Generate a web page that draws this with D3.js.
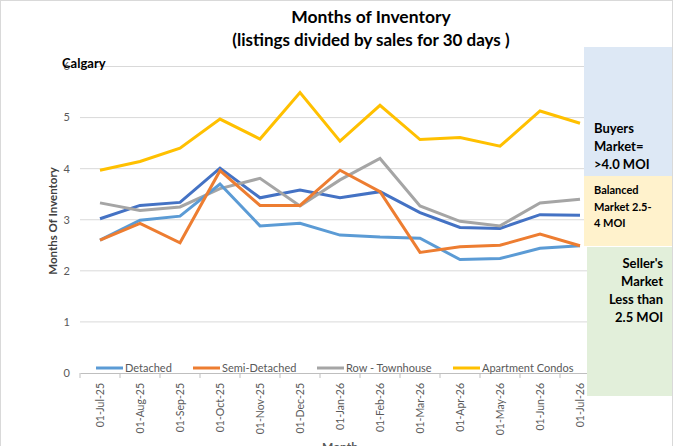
<!DOCTYPE html>
<html>
<head>
<meta charset="utf-8">
<script src="https://cdn.jsdelivr.net/npm/d3@7"></script>
<style>
  body { margin: 0; background: #fff; }
  svg { font-family: Lato, "Open Sans", sans-serif; }
</style>
</head>
<body>
<div id="chart"></div>
<script>
var width = 673, height = 446;

var months = ["01-Jul-25","01-Aug-25","01-Sep-25","01-Oct-25","01-Nov-25","01-Dec-25",
              "01-Jan-26","01-Feb-26","01-Mar-26","01-Apr-26","01-May-26","01-Jun-26","01-Jul-26"];
var detached   = [2.60, 2.99, 3.07, 3.70, 2.88, 2.93, 2.70, 2.66, 2.64, 2.22, 2.24, 2.44, 2.49];
var semiDet    = [2.60, 2.93, 2.55, 3.96, 3.28, 3.28, 3.97, 3.55, 2.36, 2.47, 2.50, 2.72, 2.49];
var rowTown    = [3.33, 3.18, 3.25, 3.61, 3.81, 3.27, 3.78, 4.20, 3.27, 2.97, 2.88, 3.33, 3.40];
var aptCondo   = [3.97, 4.14, 4.40, 4.97, 4.58, 5.49, 4.54, 5.24, 4.57, 4.61, 4.44, 5.13, 4.89];
var allTypes   = [3.02, 3.28, 3.34, 4.01, 3.43, 3.58, 3.43, 3.55, 3.14, 2.85, 2.83, 3.10, 3.09];
var yTicks = [0, 1, 2, 3, 4, 5, 6];

var series = [
  {name: "All Types", values: allTypes, color: "#4472C4"},
  {name: "Row - Townhouse", values: rowTown, color: "#A5A5A5"},
  {name: "Detached", values: detached, color: "#5B9BD5"},
  {name: "Semi-Detached", values: semiDet, color: "#ED7D31"},
  {name: "Apartment Condos", values: aptCondo, color: "#FFC000"}
];
var legendOrder = ["Detached", "Semi-Detached", "Row - Townhouse", "Apartment Condos"];

var svg = d3.select("#chart").append("svg")
  .attr("width", width).attr("height", height);

svg.append("rect").attr("x", 0.5).attr("y", 0.5)
  .attr("width", width - 1).attr("height", height + 5)
  .attr("fill", "#fff").attr("stroke", "#D9D9D9");

var x = d3.scaleBand().domain(months).range([80, 600]);
var y = d3.scaleLinear().domain([0, 6]).range([373, 66.5]);
var cx = function(i) { return x(months[i]) + x.bandwidth() / 2; };

// gridlines
svg.selectAll(".grid").data(yTicks.slice(1)).enter().append("line")
  .attr("x1", 80).attr("x2", 600)
  .attr("y1", function(d) { return y(d); }).attr("y2", function(d) { return y(d); })
  .attr("stroke", "#D9D9D9").attr("stroke-width", 1);

// y tick labels
svg.selectAll(".ylab").data(yTicks).enter().append("text")
  .attr("x", 70).attr("y", function(d) { return y(d); })
  .attr("dy", "0.35em").attr("text-anchor", "end")
  .attr("fill", "#595959").attr("font-size", 11)
  .text(function(d) { return d; });

// x axis
var xAxis = d3.axisBottom(x).tickSizeOuter(0).tickSize(0);
var gx = svg.append("g").attr("transform", "translate(0,373)").call(xAxis);
gx.select(".domain").attr("stroke", "#BFBFBF");
gx.selectAll(".tick text")
  .attr("transform", "rotate(-90)")
  .attr("text-anchor", "end")
  .attr("x", -10).attr("y", 0).attr("dy", "0.35em")
  .attr("fill", "#595959").attr("font-size", 10.5).attr("font-family", "Lato");
svg.selectAll(".xtick").data(d3.range(months.length + 1)).enter().append("line")
  .attr("x1", function(i) { return 80 + i * x.step(); })
  .attr("x2", function(i) { return 80 + i * x.step(); })
  .attr("y1", 373).attr("y2", 378)
  .attr("stroke", "#BFBFBF");

// lines
var line = d3.line()
  .x(function(d, i) { return cx(i); })
  .y(function(d) { return y(d); });

svg.selectAll(".series").data(series).enter().append("path")
  .attr("d", function(d) { return line(d.values); })
  .attr("fill", "none")
  .attr("stroke", function(d) { return d.color; })
  .attr("stroke-width", 3);

// legend
var legendX = [96, 193, 317, 453];
var lg = svg.selectAll(".legend").data(legendOrder).enter().append("g")
  .attr("transform", function(d, i) { return "translate(" + legendX[i] + ",368)"; });
lg.append("line").attr("x1", 0).attr("x2", 27).attr("y1", 0).attr("y2", 0)
  .attr("stroke-width", 3)
  .attr("stroke", function(d) { return series.find(function(s) { return s.name === d; }).color; });
lg.append("text").attr("x", 29).attr("y", 0).attr("dy", "0.35em")
  .attr("fill", "#595959").attr("font-size", 11)
  .text(function(d) { return d; });

// titles
svg.append("text").attr("x", 371).attr("y", 23).attr("text-anchor", "middle")
  .attr("font-size", 17.5).attr("font-weight", "bold").attr("fill", "#000")
  .text("Months of Inventory");
svg.append("text").attr("x", 371).attr("y", 46).attr("text-anchor", "middle")
  .attr("font-size", 17).attr("font-weight", "bold").attr("fill", "#000")
  .text("(listings divided by sales for 30 days )");
svg.append("text").attr("x", 62).attr("y", 68)
  .attr("font-size", 13).attr("font-weight", "bold").attr("fill", "#000")
  .text("Calgary");
svg.append("text").attr("transform", "translate(57,221) rotate(-90)")
  .attr("text-anchor", "middle").attr("font-size", 11.5).attr("font-weight", "bold")
  .attr("fill", "#404040").text("Months Of Inventory");
svg.append("text").attr("x", 340).attr("y", 451).attr("text-anchor", "middle")
  .attr("font-size", 12).attr("font-weight", "bold").attr("fill", "#595959")
  .text("Month");

// market boxes
var boxes = [
  {x: 584, y: 47, h: 129, fill: "#DDE8F5"},
  {x: 584, y: 176, h: 70, fill: "#FFF2CC"},
  {x: 587, y: 247, h: 149, fill: "#E2EFDA"}
];
svg.selectAll(".box").data(boxes).enter().append("rect")
  .attr("x", function(d) { return d.x; }).attr("y", function(d) { return d.y; })
  .attr("width", function(d) { return 672 - d.x; }).attr("height", function(d) { return d.h; })
  .attr("fill", function(d) { return d.fill; });

function boxText(lines, xp, y0, dy, size, anchor) {
  svg.append("g").selectAll("text").data(lines).enter().append("text")
    .attr("x", xp).attr("y", function(d, i) { return y0 + i * dy; })
    .attr("text-anchor", anchor).attr("font-size", size).attr("font-weight", "bold")
    .attr("fill", "#000").text(function(d) { return d; });
}
boxText(["Buyers", "Market=", ">4.0 MOI"], 594, 133, 18, 13, "start");
boxText(["Balanced", "Market  2.5-", "4 MOI"], 594, 194, 16.5, 11, "start");
boxText(["Seller's", "Market", "Less than", "2.5 MOI"], 663, 268, 18, 13, "end");
</script>
</body>
</html>
